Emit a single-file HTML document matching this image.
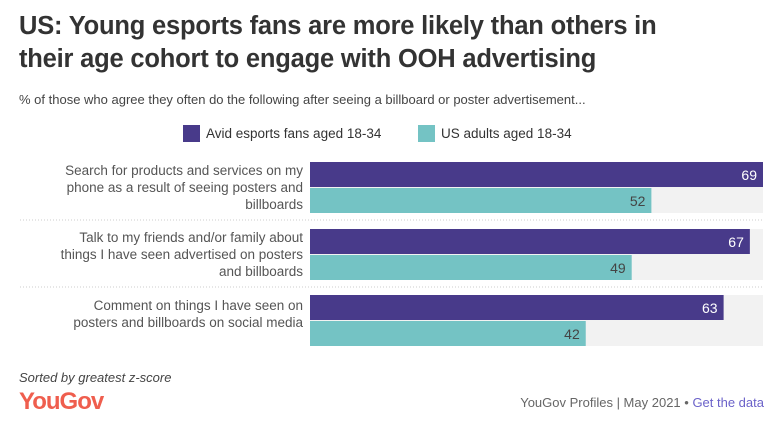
<!DOCTYPE html>
<html><head><meta charset="utf-8"><style>
body{margin:0;width:783px;height:430px;background:#fff;font-family:"Liberation Sans",sans-serif;position:relative;overflow:hidden;color:#333}
.t{position:absolute;left:19px;top:10px;font-size:25.5px;font-weight:bold;line-height:33px;color:#333;letter-spacing:-0.2px}
.st{position:absolute;left:19px;top:92px;font-size:13px;color:#444}
.lg{position:absolute;top:125px;font-size:13.5px;color:#333;display:flex;align-items:center}
.sw{width:17px;height:17px;display:inline-block;margin-right:6px}
.lab{position:absolute;right:480px;text-align:right;font-size:13.5px;line-height:17px;color:#555;width:300px;white-space:nowrap}
</style></head><body>
<div class="t">US: Young esports fans are more likely than others in<br>their age cohort to engage with OOH advertising</div>
<div class="st">% of those who agree they often do the following after seeing a billboard or poster advertisement...</div>
<div class="lg" style="left:183px"><span class="sw" style="background:#483a8a"></span>Avid esports fans aged 18-34</div>
<div class="lg" style="left:418px"><span class="sw" style="background:#74c3c4"></span>US adults aged 18-34</div>
<svg id="chart" width="783" height="430" style="position:absolute;left:0;top:0"></svg>
<div class="lab" style="top:162px">Search for products and services on my<br>phone as a result of seeing posters and<br>billboards</div>
<div class="lab" style="top:229px">Talk to my friends and/or family about<br>things I have seen advertised on posters<br>and billboards</div>
<div class="lab" style="top:297px">Comment on things I have seen on<br>posters and billboards on social media</div>
<div style="position:absolute;left:19px;top:370px;font-size:13px;font-style:italic;color:#444">Sorted by greatest z-score</div>
<div style="position:absolute;left:19px;top:388px;font-size:24px;font-weight:bold;color:#ef5e4e;letter-spacing:-1px">YouGov</div>
<div style="position:absolute;right:19px;top:395px;font-size:13px;color:#666">YouGov Profiles | May 2021 • <span style="color:#6b62c9">Get the data</span></div>
<script>
const categories=["Search","Talk","Comment"];
const avid=[69,67,63];
const adults=[52,49,42];
const svg=document.getElementById('chart');
const NS="http://www.w3.org/2000/svg";
const x0=310,xmax=763,maxV=Math.max(...avid);
const xs=v=>(v/maxV)*(xmax-x0);
const gTop=[162,229,295],bh=25,gap=1;
function mk(t,a){const e=document.createElementNS(NS,t);for(const k in a)e.setAttribute(k,a[k]);svg.appendChild(e);return e;}
categories.forEach((c,i)=>{
  const y=gTop[i];
  const bg=mk('rect',{x:x0,y:y,width:xmax-x0,height:bh*2+gap,fill:'#f2f2f2'});
  
  
  const r1=mk('rect',{x:x0,y:y,width:xs(avid[i]),height:bh,fill:'#483a8a'});
  
  
  const r2=mk('rect',{x:x0,y:y+bh+gap,width:xs(adults[i]),height:bh,fill:'#74c3c4'});
  
  
  const t1=mk('text',{x:x0+xs(avid[i])-6,y:y+18,'text-anchor':'end','font-size':14,fill:'#fff','font-family':'Liberation Sans'});
  t1.textContent=avid[i];
  
  
  const t2=mk('text',{x:x0+xs(adults[i])-6,y:y+bh+gap+18,'text-anchor':'end','font-size':14,fill:'#444','font-family':'Liberation Sans'});
  t2.textContent=adults[i];
  
  
  if(i<categories.length-1){
    const l=mk('line',{x1:20,x2:763,y1:y+58,y2:y+58,stroke:'#ccc','stroke-dasharray':'1,2'});
    
    
  }
});
</script>
</body></html>
